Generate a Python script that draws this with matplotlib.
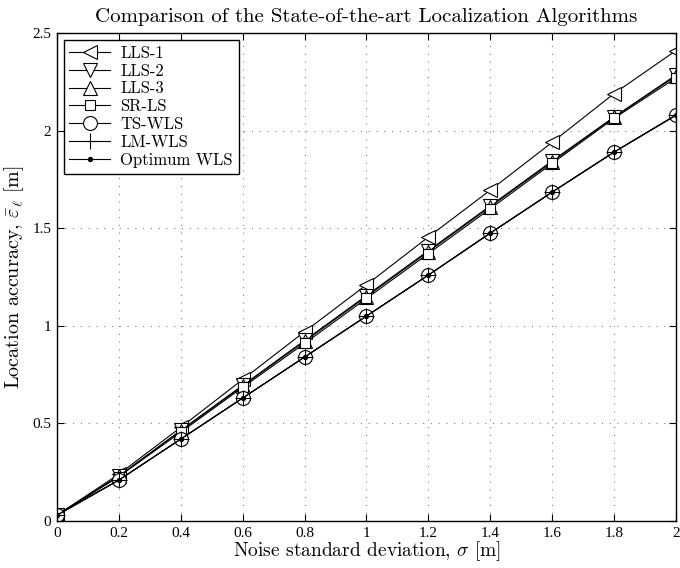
import matplotlib
matplotlib.use("Agg")
import matplotlib.pyplot as plt

plt.rcParams['font.family'] = 'serif'
plt.rcParams['font.serif'] = ['cmr10']
plt.rcParams['mathtext.fontset'] = 'cm'
plt.rcParams['axes.formatter.use_mathtext'] = True

# noise std (m)
sigma = [0, 0.2, 0.4, 0.6, 0.8, 1.0, 1.2, 1.4, 1.6, 1.8, 2.0]
xtick_labels = ['0', '0.2', '0.4', '0.6', '0.8', '1', '1.2', '1.4', '1.6', '1.8', '2']
yticks = [0, 0.5, 1, 1.5, 2, 2.5]
ytick_labels = ['0', '0.5', '1', '1.5', '2', '2.5']

# location accuracy (m) per algorithm
lls1 = [0.03, 0.24, 0.48, 0.725, 0.97, 1.21, 1.455, 1.695, 1.94, 2.19, 2.41]
lls2 = [0.03, 0.23, 0.465, 0.695, 0.925, 1.155, 1.385, 1.615, 1.845, 2.07, 2.285]
lls3 = [0.03, 0.23, 0.462, 0.692, 0.92, 1.15, 1.38, 1.61, 1.84, 2.068, 2.28]
srls = [0.03, 0.228, 0.455, 0.685, 0.91, 1.14, 1.37, 1.60, 1.832, 2.063, 2.27]
tswls = [0.03, 0.21, 0.42, 0.63, 0.84, 1.05, 1.26, 1.475, 1.685, 1.89, 2.08]
lmwls = [0.03, 0.21, 0.42, 0.63, 0.84, 1.05, 1.26, 1.475, 1.685, 1.89, 2.08]
optwls = [0.03, 0.21, 0.42, 0.63, 0.84, 1.05, 1.26, 1.475, 1.685, 1.89, 2.078]

series = [
    ('LLS-1', lls1, '<', 10),
    ('LLS-2', lls2, 'v', 10),
    ('LLS-3', lls3, '^', 10),
    ('SR-LS', srls, 's', 7.5),
    ('TS-WLS', tswls, 'o', 10),
    ('LM-WLS', lmwls, '+', 11),
    ('Optimum WLS', optwls, '.', 6),
]

fig = plt.figure(figsize=(6.8, 5.68), dpi=100)
ax = fig.add_axes([0.0838, 0.0827, 0.9103, 0.8592])

for label, vals, mk, ms in series:
    face = 'k' if mk == '.' else 'white'
    ax.plot(sigma, vals, color='k', linewidth=0.8, marker=mk, markersize=ms,
            markerfacecolor=face, markeredgecolor='k', markeredgewidth=0.8,
            label=label)

ax.set_xlim(0, 2)
ax.set_ylim(0, 2.5)
ax.set_xticks(sigma)
ax.set_xticklabels(xtick_labels, family='Liberation Serif')
ax.set_yticks(yticks)
ax.set_yticklabels(ytick_labels, family='Liberation Serif')
ax.tick_params(direction='in', top=True, right=True, length=5, width=0.8,
               labelsize=11, pad=4)
ax.grid(True, linestyle=(0, (1, 6)), color='#808080', linewidth=0.8)
for sp in ax.spines.values():
    sp.set_linewidth(1.0)

ax.set_xlabel(r'Noise standard deviation, $\sigma$ [m]', fontsize=14, labelpad=0)
ax.set_ylabel(r'Location accuracy, $\bar{\varepsilon}_\ell$ [m]', fontsize=14.5)
ax.yaxis.set_label_coords(-0.05, 0.5)
ax.set_title('Comparison of the State-of-the-art Localization Algorithms',
             fontsize=15, pad=8)

leg = ax.legend(loc='upper left', fontsize=12, fancybox=False, framealpha=1,
                edgecolor='k', handlelength=2.45, labelspacing=0.15,
                borderpad=0.35, handletextpad=0.6, borderaxespad=0.4)
leg.get_frame().set_linewidth(1.0)

fig.savefig('out.png', dpi=100)
